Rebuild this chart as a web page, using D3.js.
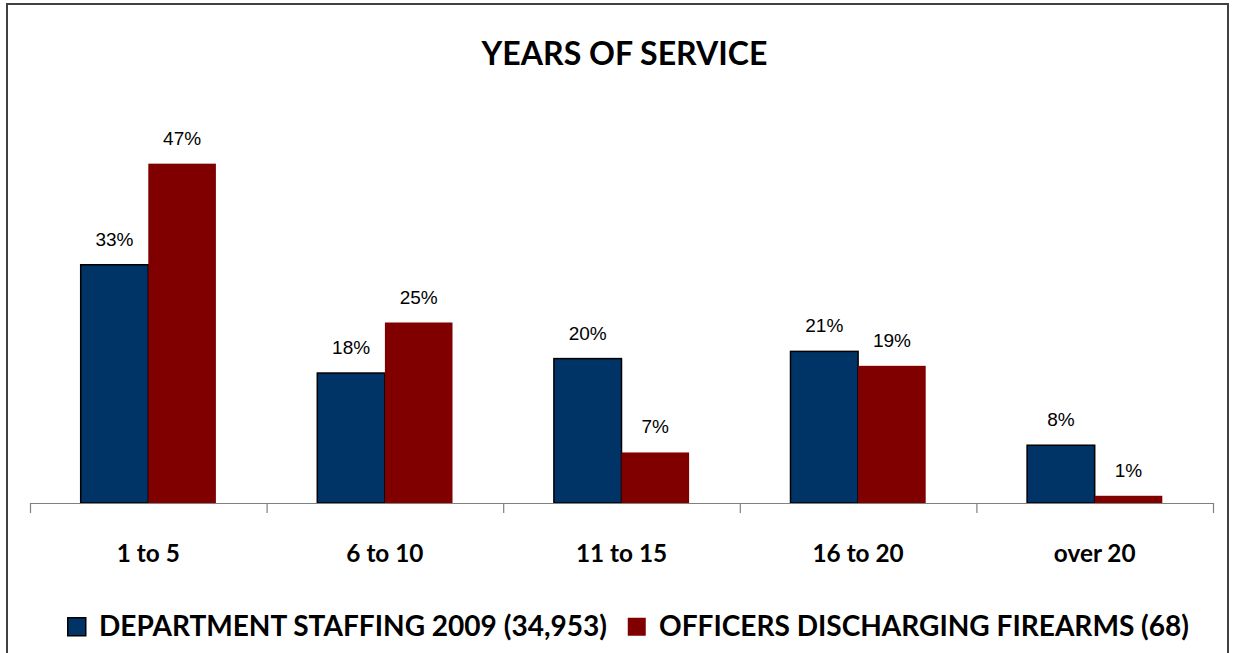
<!DOCTYPE html>
<html>
<head>
<meta charset="utf-8">
<script src="https://cdn.jsdelivr.net/npm/d3@7"></script>
<style>
  html, body { margin: 0; padding: 0; background: #fff; }
  svg { display: block; }
</style>
</head>
<body>
<svg id="chart" width="1235" height="653"></svg>
<script>
// Years of service: share of department staff vs. officers discharging firearms
const categories = ["1 to 5", "6 to 10", "11 to 15", "16 to 20", "over 20"];
const staffing = [33, 18, 20, 21, 8];
const discharging = [47, 25, 7, 19, 1];
const seriesNames = ["DEPARTMENT STAFFING 2009 (34,953)", "OFFICERS DISCHARGING FIREARMS (68)"];
const seriesColors = ["#003366", "#800000"];
const titleText = "YEARS OF SERVICE";

const W = 1235, H = 653;
const svg = d3.select("#chart");
const boldFont = "Lato, 'Open Sans', sans-serif";
const labelFont = "'Liberation Sans', Arial, sans-serif";

// outer frame (runs past the bottom edge)
svg.append("rect")
  .attr("x", 7).attr("y", 4).attr("width", 1221).attr("height", 700)
  .attr("fill", "none").attr("stroke", "#404040").attr("stroke-width", 2);

// scale a text element's font so it spans a given width
function fitWidth(sel, target) {
  const size = parseFloat(sel.attr("font-size"));
  const w = sel.node().getComputedTextLength();
  sel.attr("font-size", (size * target / w).toFixed(2));
}

// title
const title = svg.append("text")
  .attr("x", 624.5).attr("y", 65)
  .attr("text-anchor", "middle")
  .attr("font-family", boldFont).attr("font-weight", "bold")
  .attr("font-size", 30).attr("fill", "#000")
  .text(titleText);
fitWidth(title, 286);

const plot = { left: 30, right: 1213, top: 142, bottom: 503 };

const x = d3.scaleBand().domain(categories).range([plot.left, plot.right]).padding(0);
const bw = x.bandwidth();
// gap width of 150% between bar groups
const groupW = bw * 2 / 3.5;
const groupOffset = bw * 0.75 / 3.5;
const xs = d3.scaleBand().domain([0, 1]).range([0, groupW]).padding(0);
const y = d3.scaleLinear().domain([0, 50]).range([plot.bottom, plot.top]);

const rows = categories.map((c, i) => ({ cat: c, vals: [staffing[i], discharging[i]] }));

const groups = svg.append("g").selectAll("g")
  .data(rows).join("g")
  .attr("transform", d => `translate(${x(d.cat) + groupOffset},0)`);

groups.selectAll("rect")
  .data(d => d.vals.map((v, s) => ({ v, s })))
  .join("rect")
  .attr("x", d => xs(d.s))
  .attr("y", d => y(d.v))
  .attr("width", xs.bandwidth())
  .attr("height", d => y(0) - y(d.v))
  .attr("fill", d => seriesColors[d.s])
  .attr("stroke", d => d.s === 0 ? "#000" : "none")
  .attr("stroke-width", 1.5);

groups.selectAll("text.val")
  .data(d => d.vals.map((v, s) => ({ v, s })))
  .join("text")
  .attr("class", "val")
  .attr("x", d => xs(d.s) + xs.bandwidth() / 2)
  .attr("y", d => y(d.v) - 19)
  .attr("text-anchor", "middle")
  .attr("font-family", labelFont)
  .attr("font-size", 19)
  .attr("fill", "#000")
  .text(d => d.v + "%");

// category axis: baseline with tick marks at band edges
const edges = d3.scaleLinear().domain([0, categories.length]).range([plot.left, plot.right]);
const axisG = svg.append("g").attr("transform", `translate(0,${plot.bottom})`)
  .call(d3.axisBottom(edges).tickValues(d3.range(categories.length + 1)).tickSize(10).tickSizeOuter(0).tickFormat(""));
axisG.selectAll("path, line").attr("stroke", "#808080").attr("stroke-width", 1.2);

const catAxis = svg.append("g").attr("transform", `translate(0,${plot.bottom})`)
  .call(d3.axisBottom(x).tickSize(0).tickPadding(0));
catAxis.select(".domain").remove();
catAxis.selectAll("text")
  .attr("y", 59).attr("dy", null)
  .attr("font-family", boldFont).attr("font-weight", "bold")
  .attr("font-size", 26).attr("fill", "#000");
fitWidth(catAxis.select("text"), 63);
catAxis.selectAll("text").attr("font-size", catAxis.select("text").attr("font-size"));

// legend
const legend = svg.append("g");
let lx = 67;
const legendY = 636;
let legendSize = null;
seriesNames.forEach((name, i) => {
  legend.append("rect")
    .attr("x", lx + 0.75).attr("y", legendY - 19 + 0.75).attr("width", 18).attr("height", 18)
    .attr("fill", seriesColors[i]).attr("stroke", "#000").attr("stroke-width", i === 0 ? 1.5 : 0);
  const t = legend.append("text")
    .attr("x", lx + 32).attr("y", legendY)
    .attr("font-family", boldFont).attr("font-weight", "bold")
    .attr("font-size", legendSize || 26).attr("fill", "#000")
    .text(name);
  if (!legendSize) { fitWidth(t, 508); legendSize = t.attr("font-size"); }
  lx += 32 + t.node().getComputedTextLength() + 20;
});
</script>
</body>
</html>
